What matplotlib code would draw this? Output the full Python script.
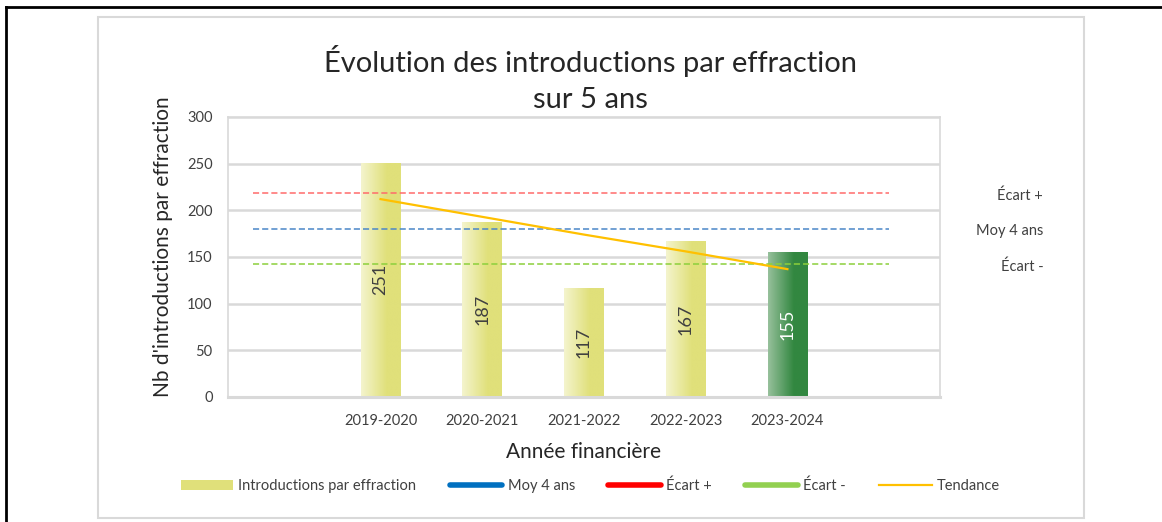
import matplotlib.pyplot as plt
import numpy as np
from matplotlib.lines import Line2D
from matplotlib.patches import Patch, Rectangle
import matplotlib.transforms as mtransforms

plt.rcParams["font.family"] = ["Lato", "DejaVu Sans"]

# data
years = ["2019-2020", "2020-2021", "2021-2022", "2022-2023", "2023-2024"]
incidents = [251, 187, 117, 167, 155]
moy_4_ans = 180.5
ecart_plus = 219
ecart_moins = 142
tendance = [212, 193, 174, 156, 137]

yellow = np.array([224, 224, 122]) / 255
yellow_light = np.array([244, 244, 205]) / 255
green = np.array([50, 135, 64]) / 255
green_light = np.array([150, 192, 155]) / 255


def gradient_bar(ax, x, h, w, c_light, c_full):
    rect = Rectangle((x - w / 2, 0), w, h, facecolor=c_full, edgecolor="none", zorder=2)
    ax.add_patch(rect)
    t = np.clip(np.linspace(0, 1, 64) / 0.65, 0, 1)[None, :, None]
    img = c_light[None, None, :] * (1 - t) + c_full[None, None, :] * t
    im = ax.imshow(img, extent=[x - w / 2, x + w / 2, 0, h], aspect="auto",
                   zorder=2.1, interpolation="bilinear")
    im.set_clip_path(rect)


fig = plt.figure(figsize=(11.62, 5.22), dpi=100)
ax = fig.add_axes([0.1962, 0.2395, 0.6127, 0.5364])

xs = np.arange(1, len(years) + 1)
for i, (x, v) in enumerate(zip(xs, incidents)):
    last = i == len(years) - 1
    gradient_bar(ax, x, v, 0.39, green_light if last else yellow_light, green if last else yellow)
    ax.text(x, v / 2, str(v), rotation=90, ha="center", va="center", fontsize=13,
            color="white" if last else "#404040", zorder=5)

ax.plot([-0.25, 6.0], [ecart_plus] * 2, ls=(0, (4, 2)), color="#FF6B6B", lw=1.1, zorder=3)
ax.plot([-0.25, 6.0], [moy_4_ans] * 2, ls=(0, (4, 2)), color="#4A86C8", lw=1.1, zorder=3)
ax.plot([-0.25, 6.0], [ecart_moins] * 2, ls=(0, (4, 2)), color="#8CD03C", lw=1.1, zorder=3)
ax.plot(xs, tendance, color="#FFC000", lw=1.6, zorder=4)

ax.set_xlim(-0.5, 6.5)
ax.set_ylim(0, 300)
ax.set_yticks(range(0, 301, 50))
ax.set_xticks(xs)
ax.set_xticklabels(years)
ax.tick_params(length=0, labelsize=10.5, colors="#404040")
ax.tick_params(axis="y", pad=11)
ax.tick_params(axis="x", pad=12)
ax.yaxis.grid(True, color="#D9D9D9", lw=1.8, zorder=0)
ax.set_axisbelow(True)
for s in ["left", "right", "top"]:
    ax.spines[s].set_color("#D9D9D9")
    ax.spines[s].set_linewidth(1.2)
ax.spines["bottom"].set_color("#D9D9D9")
ax.spines["bottom"].set_linewidth(2.2)

ax.set_xlabel("Année financière", fontsize=15, color="#262626", labelpad=10)
ax.set_ylabel("Nb d'introductions par effraction", fontsize=15, color="#262626", labelpad=10)
ax.yaxis.label.set_y(0.536)

trans = mtransforms.blended_transform_factory(ax.transAxes, ax.transData)
for val, lab in [(ecart_plus, "Écart +"), (moy_4_ans, "Moy 4 ans"), (ecart_moins, "Écart -")]:
    ax.text(1.145, val - 3, lab, transform=trans, ha="right", va="center", fontsize=10.5,
            color="#404040")

fig.text(0.508, 0.849, "Évolution des introductions par effraction\nsur 5 ans", ha="center",
         va="center", fontsize=21, linespacing=1.5, color="#262626")

handles = [
    Patch(facecolor="#E0E07A", edgecolor="none"),
    Line2D([], [], color="#0070C0", lw=4, solid_capstyle="round"),
    Line2D([], [], color="#FF0000", lw=4, solid_capstyle="round"),
    Line2D([], [], color="#92D050", lw=4, solid_capstyle="round"),
    Line2D([], [], color="#FFC000", lw=1.6),
]
labels = ["Introductions par effraction", "Moy 4 ans", "Écart +", "Écart -", "Tendance"]
fig.legend(handles, labels, loc="center", bbox_to_anchor=(0.508, 0.069), ncol=5, frameon=False,
           fontsize=10.5, handlelength=3.6, columnspacing=2.3, handletextpad=0.35,
           labelcolor="#404040")

# outer frames
fig.add_artist(Rectangle((98 / 1162, 1 - 518 / 522), (1084 - 98) / 1162, (518 - 17) / 522,
                         transform=fig.transFigure, fill=False, edgecolor="#D9D9D9", lw=1.5))
fig.add_artist(Line2D([6 / 1162, 1], [1 - 7 / 522] * 2, transform=fig.transFigure,
                      color="black", lw=2))
fig.add_artist(Line2D([6 / 1162] * 2, [0, 1 - 7 / 522], transform=fig.transFigure,
                      color="black", lw=2))

fig.savefig("out.png", dpi=100, facecolor="white")
